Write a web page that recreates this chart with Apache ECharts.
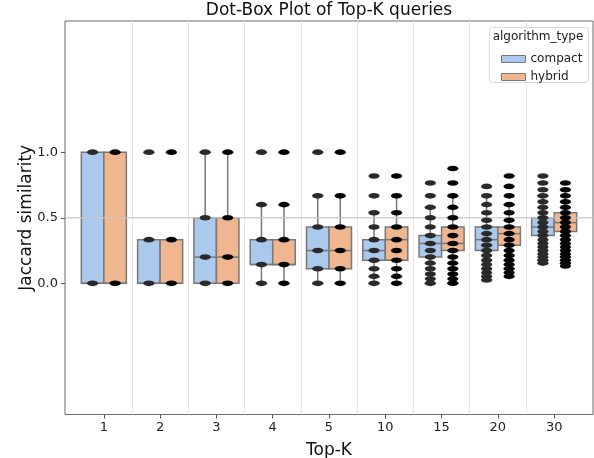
<!DOCTYPE html>
<html>
<head>
<meta charset="utf-8">
<script src="https://cdn.jsdelivr.net/npm/echarts@6/dist/echarts.min.js"></script>
<style>html,body{margin:0;padding:0;background:#fff}#c{width:594px;height:458px}</style>
</head>
<body>
<div id="c"></div>
<script>
const categories = ['1', '2', '3', '4', '5', '10', '15', '20', '30'];
const yTicks = [0, 0.5, 1.0];

// box stats per category: [lower whisker, Q1, median, Q3, upper whisker]
const compactStats = [
  [0, 0, 0, 1, 1],
  [0, 0, 0, 0.333, 0.333],
  [0, 0, 0.2, 0.5, 1],
  [0, 0.143, 0.143, 0.333, 0.6],
  [0, 0.111, 0.25, 0.429, 0.667],
  [0, 0.176, 0.25, 0.333, 0.538],
  [0, 0.2, 0.304, 0.364, 0.579],
  [0.026, 0.25, 0.333, 0.429, 0.667],
  [0.176, 0.364, 0.429, 0.5, 0.667]
];
const hybridStats = [
  [0, 0, 0, 1, 1],
  [0, 0, 0, 0.333, 0.333],
  [0, 0, 0.2, 0.5, 1],
  [0, 0.143, 0.143, 0.333, 0.6],
  [0, 0.111, 0.25, 0.429, 0.667],
  [0, 0.176, 0.333, 0.429, 0.667],
  [0, 0.25, 0.304, 0.429, 0.667],
  [0.111, 0.29, 0.379, 0.429, 0.6],
  [0.2, 0.395, 0.463, 0.538, 0.714]
];

// observed similarity values (dots) per category
const compactDots = [
  [0, 1],
  [0, 0.333, 1],
  [0, 0.2, 0.5, 1],
  [0, 0.143, 0.333, 0.6, 1],
  [0, 0.111, 0.25, 0.429, 0.667, 1],
  [0, 0.053, 0.111, 0.176, 0.25, 0.333, 0.429, 0.538, 0.667, 0.818],
  [0, 0.034, 0.071, 0.111, 0.154, 0.2, 0.25, 0.304, 0.364, 0.429, 0.5, 0.579, 0.667, 0.765],
  [0.026, 0.053, 0.081, 0.111, 0.143, 0.176, 0.212, 0.25, 0.29, 0.333, 0.379, 0.429, 0.481, 0.538, 0.6, 0.667, 0.739],
  [0.154, 0.176, 0.2, 0.224, 0.25, 0.277, 0.304, 0.333, 0.364, 0.395, 0.429, 0.463, 0.5, 0.538, 0.579, 0.622, 0.667, 0.714, 0.765, 0.818]
];
const hybridDots = [
  [0, 1],
  [0, 0.333, 1],
  [0, 0.2, 0.5, 1],
  [0, 0.143, 0.333, 0.6, 1],
  [0, 0.111, 0.25, 0.429, 0.667, 1],
  [0, 0.053, 0.111, 0.176, 0.25, 0.333, 0.429, 0.538, 0.667, 0.818],
  [0, 0.034, 0.071, 0.111, 0.154, 0.2, 0.25, 0.304, 0.364, 0.429, 0.5, 0.579, 0.667, 0.765, 0.875],
  [0.053, 0.081, 0.111, 0.143, 0.176, 0.212, 0.25, 0.29, 0.333, 0.379, 0.429, 0.481, 0.538, 0.6, 0.667, 0.739, 0.818],
  [0.132, 0.154, 0.176, 0.2, 0.224, 0.25, 0.277, 0.304, 0.333, 0.364, 0.395, 0.429, 0.463, 0.5, 0.538, 0.579, 0.622, 0.667, 0.714, 0.765]
];

const refLineValue = 0.5;

const COMPACT = '#aac9ec';
const HYBRID = '#f0b68f';
const EDGE = '#787878';
const FONT = 'DejaVu Sans';

function boxSeries(name, stats, color, side) {
  return {
    type: 'custom', name: name, xAxisIndex: 1, yAxisIndex: 1, z: 2,
    itemStyle: { color: color, borderColor: EDGE },
    encode: { x: 0, y: [1, 2, 3, 4, 5] },
    data: stats.map((s, i) => [i].concat(s)),
    renderItem: function (params, api) {
      const i = api.value(0);
      const band = api.size([1, 0])[0];
      const c = api.coord([i, 0])[0] + side * band * 0.2;
      const w = band * 0.4;
      const y = k => api.coord([i, api.value(k)])[1];
      const yMin = y(1), yQ1 = y(2), yMed = y(3), yQ3 = y(4), yMax = y(5);
      const ls = { stroke: EDGE, lineWidth: 1.5 };
      const cap = w / 4;
      return {
        type: 'group', children: [
          { type: 'line', shape: { x1: c, y1: yQ3, x2: c, y2: yMax }, style: ls },
          { type: 'line', shape: { x1: c, y1: yQ1, x2: c, y2: yMin }, style: ls },
          { type: 'line', shape: { x1: c - cap, y1: yMax, x2: c + cap, y2: yMax }, style: ls },
          { type: 'line', shape: { x1: c - cap, y1: yMin, x2: c + cap, y2: yMin }, style: ls },
          { type: 'rect', shape: { x: c - w / 2, y: yQ3, width: w, height: yQ1 - yQ3 }, style: { fill: color, stroke: EDGE, lineWidth: 1.5 } },
          { type: 'line', shape: { x1: c - w / 2, y1: yMed, x2: c + w / 2, y2: yMed }, style: ls }
        ]
      };
    }
  };
}

function dotSeries(name, dots, color, side) {
  const data = [];
  dots.forEach((arr, i) => arr.forEach(v => data.push([i, v])));
  return {
    type: 'custom', name: name, xAxisIndex: 1, yAxisIndex: 1, z: 5,
    encode: { x: 0, y: 1 },
    data: data,
    renderItem: function (params, api) {
      const band = api.size([1, 0])[0];
      const p = api.coord([api.value(0), api.value(1)]);
      return {
        type: 'circle', x: p[0] + side * band * 0.2, y: p[1], scaleX: 2.0,
        shape: { cx: 0, cy: 0, r: 2.8 },
        style: { fill: color }
      };
    }
  };
}

const chart = echarts.init(document.getElementById('c'), null, { renderer: 'canvas' });
chart.setOption({
  animation: false,
  backgroundColor: '#fff',
  textStyle: { fontFamily: FONT },
  grid: [
    { left: 65, right: 1, top: 21, bottom: 43.5, show: true, borderColor: '#6b6b6b', borderWidth: 1, backgroundColor: 'transparent', containLabel: false, outerBoundsMode: 'none' },
    { left: 75.7, right: 11.7, top: 21, bottom: 43.5, containLabel: false, outerBoundsMode: 'none' }
  ],
  xAxis: [
    { type: 'value', gridIndex: 0, min: 0, max: 1, show: false },
    {
      type: 'category', gridIndex: 1, data: categories, boundaryGap: true,
      axisLine: { show: false, onZero: false },
      axisTick: { show: true, alignWithLabel: true, length: 4, lineStyle: { color: '#555' } },
      axisLabel: { fontSize: 13, color: '#222', margin: 7, fontFamily: FONT },
      splitLine: { show: true, showMinLine: false, showMaxLine: false, lineStyle: { color: '#e6e6e6', width: 1 } },
      name: 'Top-K', nameLocation: 'middle', nameGap: 28, nameMoveOverlap: false,
      nameTextStyle: { fontSize: 17, color: '#111', fontFamily: FONT }
    }
  ],
  yAxis: [
    {
      type: 'value', gridIndex: 0, min: -1, max: 2, interval: 0.5,
      axisLine: { show: false },
      axisTick: { show: true, length: 4, customValues: yTicks, lineStyle: { color: '#555' } },
      axisLabel: { customValues: yTicks, fontSize: 13, color: '#222', margin: 7, fontFamily: FONT, formatter: v => Number(v).toFixed(1) },
      splitLine: { show: false },
      name: 'Jaccard similarity', nameLocation: 'middle', nameGap: 30, nameMoveOverlap: false,
      nameTextStyle: { fontSize: 17, color: '#111', fontFamily: FONT }
    },
    { type: 'value', gridIndex: 1, min: -1, max: 2, show: false }
  ],
  legend: {
    orient: 'vertical', left: 496, top: 48,
    itemWidth: 24, itemHeight: 7, itemGap: 6,
    icon: 'rect',
    textStyle: { fontSize: 12, color: '#222', fontFamily: FONT },
    data: [
      { name: 'compact', itemStyle: { color: COMPACT, borderColor: EDGE, borderWidth: 1 } },
      { name: 'hybrid', itemStyle: { color: HYBRID, borderColor: EDGE, borderWidth: 1 } }
    ],
    z: 10
  },
  graphic: [
    { type: 'text', z: 9, x: 329, y: 11, style: { text: 'Dot-Box Plot of Top-K queries', fontSize: 17, fontFamily: FONT, fill: '#111', align: 'center', verticalAlign: 'middle' } },
    { type: 'rect', z: 8, shape: { x: 489.5, y: 27.5, width: 99, height: 55, r: 3 }, style: { fill: 'rgba(255,255,255,0.85)', stroke: '#d9d9d9', lineWidth: 1 } },
    { type: 'text', z: 9, x: 538, y: 37, style: { text: 'algorithm_type', fontSize: 12, fontFamily: FONT, fill: '#222', align: 'center', verticalAlign: 'middle' } }
  ],
  series: [
    boxSeries('compact', compactStats, COMPACT, -1),
    boxSeries('hybrid', hybridStats, HYBRID, 1),
    {
      type: 'line', name: 'ref', xAxisIndex: 0, yAxisIndex: 0, z: 3,
      data: [[0, refLineValue], [1, refLineValue]],
      symbol: 'none', silent: true,
      lineStyle: { color: 'rgba(200,200,200,0.85)', width: 1.5 }
    },
    dotSeries('compact values', compactDots, '#2a2a2a', -1),
    dotSeries('hybrid values', hybridDots, '#050505', 1)
  ]
});
</script>
</body>
</html>
